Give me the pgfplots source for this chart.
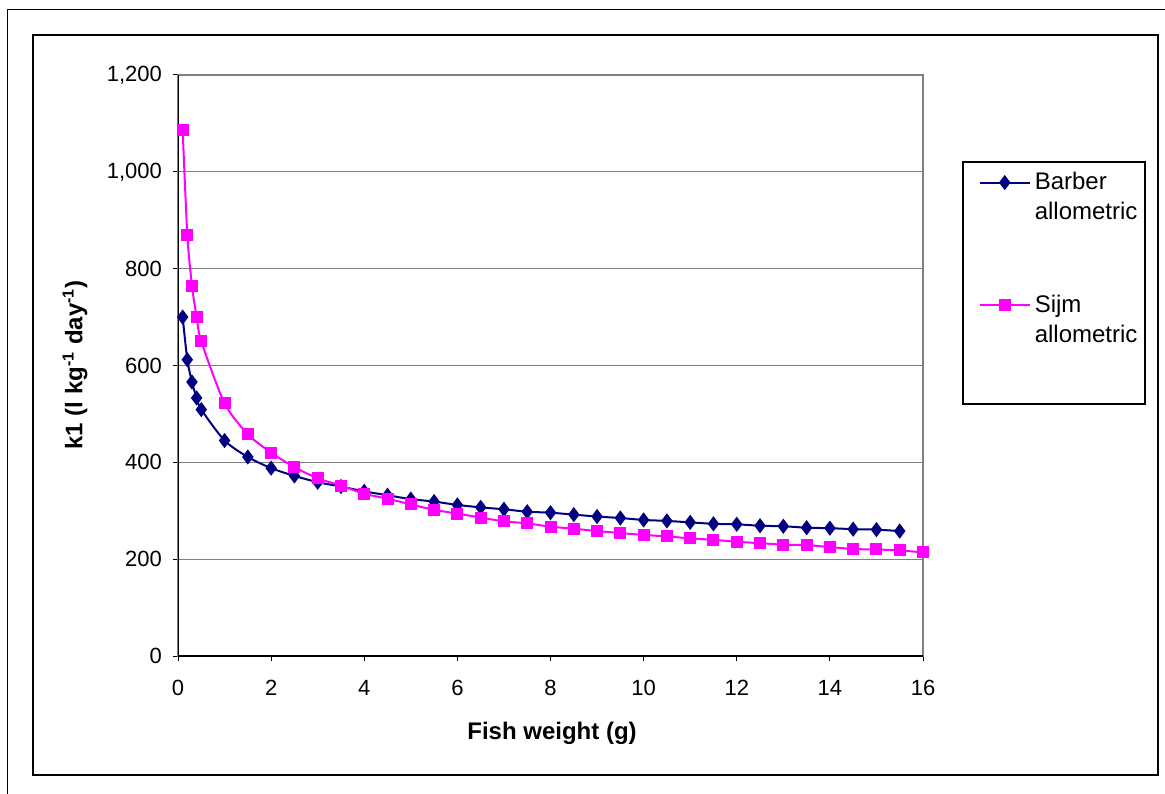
\documentclass[border=0pt]{standalone}
\usepackage{pgfplots}
\pgfplotsset{compat=1.18}
\usepackage{fontspec}
\setmainfont{Liberation Sans}
\definecolor{navyc}{RGB}{0,0,128}
\definecolor{magc}{RGB}{255,0,255}
\pgfplotstableread{
x y
0.1 700
0.2 612
0.3 566
0.4 533
0.5 509
1.0 445
1.5 411
2.0 388
2.5 372
3.0 359
3.5 350
4.0 340
4.5 332
5.0 324
5.5 319
6.0 312
6.5 307
7.0 303
7.5 298
8.0 296
8.5 292
9.0 288
9.5 285
10.0 281
10.5 279
11.0 276
11.5 273
12.0 272
12.5 269
13.0 268
13.5 265
14.0 264
14.5 262
15.0 261
15.5 258
}\barber
\pgfplotstableread{
x y
0.1 1087
0.2 870
0.3 765
0.4 700
0.5 650
1.0 522
1.5 458
2.0 420
2.5 390
3.0 367
3.5 352
4.0 335
4.5 325
5.0 313
5.5 302
6.0 294
6.5 286
7.0 278
7.5 274
8.0 267
8.5 263
9.0 258
9.5 254
10.0 250
10.5 247
11.0 243
11.5 240
12.0 236
12.5 233
13.0 230
13.5 229
14.0 225
14.5 221
15.0 220
15.5 218
16.0 214
}\sijm
\begin{document}
\begin{tikzpicture}[font=\fontsize{11}{15}\selectfont]
\path[use as bounding box] (0,0) rectangle (582.5pt,396.5pt);
\begin{scope}[x=0.5pt,y=-0.5pt,yshift=396.5pt]
\draw[line width=0.5pt] (7,800) -- (7,10) -- (1170,10);
\draw[line width=1.25pt] (33,35) rectangle (1158,775);
\draw[line width=0.6pt, fill=white] (963,162) rectangle (1145,404);
\end{scope}
\begin{axis}[
  at={(89pt,68.5pt)}, anchor=south west,
  scale only axis, width=372.5pt, height=290.5pt,
  xmin=0, xmax=16, ymin=0, ymax=1200,
  xtick={0,2,...,16}, ytick={0,200,...,1200},
  axis line style={draw=gray, line width=0.6pt},
  tick align=outside, major tick length=2.5pt,
  tick style={black, line width=0.5pt},
  xtick pos=left, ytick pos=left,
  ymajorgrids, major grid style={gray, line width=0.5pt},
  /pgf/number format/assume math mode=true,
  /pgf/number format/1000 sep={,},
  xticklabel style={yshift=-6pt},
  yticklabel style={xshift=-2pt},
  xlabel={\bfseries Fish weight (g)},
  ylabel={\bfseries k1 (l kg\textsuperscript{-1} day\textsuperscript{-1})},
  every axis x label/.style={at={(axis description cs:0.502,-0.1325)}, anchor=center, font=\fontsize{12}{15}\selectfont},
  every axis y label/.style={at={(axis description cs:-0.1383,0.501)}, anchor=center, rotate=90, font=\fontsize{12}{15}\selectfont},
  legend cell align=left,
  legend style={at={(axis description cs:1.0743,0.840)}, anchor=north west, draw=none, fill=none,
    inner sep=0pt, row sep=32pt, nodes={align=left, font=\fontsize{12}{15}\selectfont}},
  legend image code/.code={\draw[mark repeat=2,mark phase=2,yshift=7.5pt,#1] plot coordinates {(0pt,0pt)(12.5pt,0pt)(25pt,0pt)};},
]
\addplot[navyc, line width=1pt, smooth, tension=0.45, mark=diamond*, mark size=3pt, mark options={solid, fill=navyc}] table {\barber};
\addlegendentry{Barber\\allometric}
\addplot[magc, line width=1pt, smooth, tension=0.45, mark=square*, mark size=2.5pt, mark options={solid, fill=magc}] table {\sijm};
\addlegendentry{Sijm\\allometric}
\draw[black, line width=0.6pt] (rel axis cs:0,1) -- (rel axis cs:0,0) -- (rel axis cs:1,0);
\end{axis}
\end{tikzpicture}
\end{document}
